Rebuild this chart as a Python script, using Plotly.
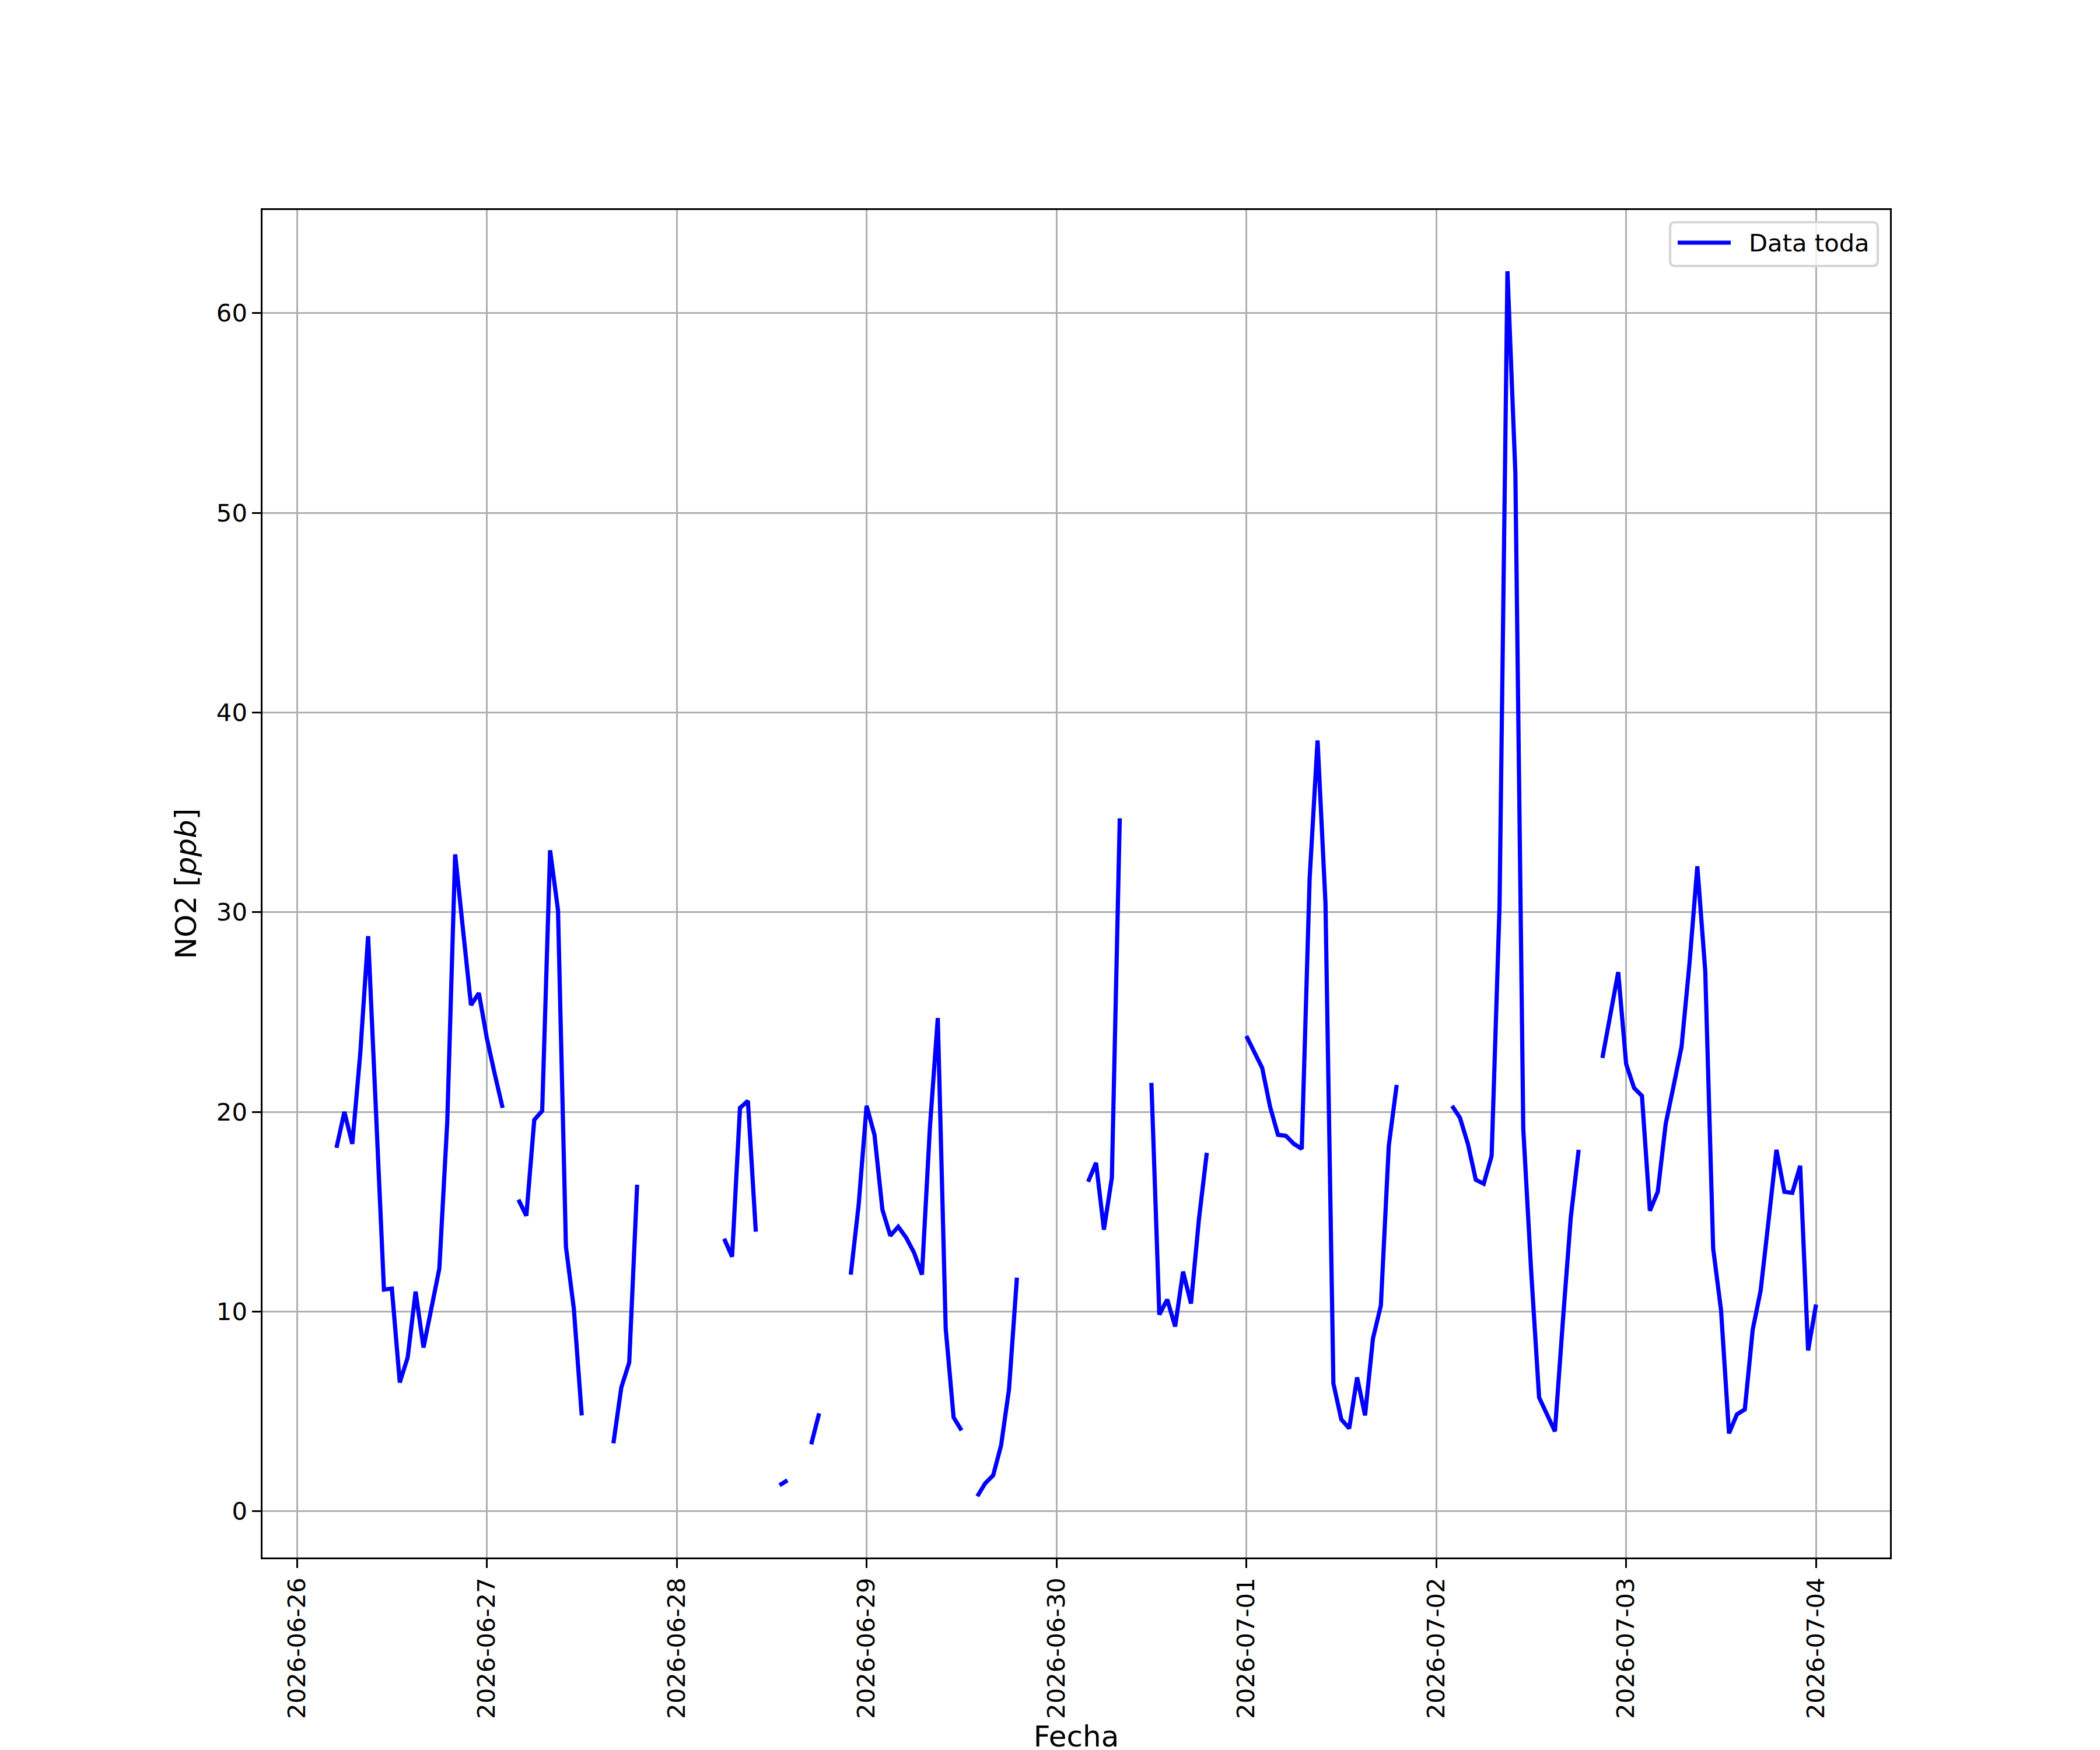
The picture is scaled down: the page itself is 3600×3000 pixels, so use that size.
import pandas as pd
import plotly.graph_objects as go

N = None
# Hourly NO2 readings (ppb), one list per day, hours 00..23 (None = missing)
day_0626 = [N, N, N, N, N, 18.2, 20.0, 18.4, 22.9, 28.8, 20.0, 11.1, 11.15, 6.45, 7.7, 11.0,
            8.2, 10.3, 12.15, 19.5, 32.9, 29.1, 25.35, 25.95]
day_0627 = [23.7, 21.9, 20.2, N, 15.6, 14.8, 19.6, 20.05, 33.1, 30.1, 13.25, 10.15, 4.8, N, N, N,
            3.4, 6.2, 7.45, 16.35, N, N, N, N]
day_0628 = [N, N, N, N, N, N, 13.65, 12.75, 20.2, 20.55, 14.0, N, N, 1.3, 1.55, N,
            N, 3.35, 4.9, N, N, N, 11.85, 15.35]
day_0629 = [20.3, 18.85, 15.1, 13.8, 14.25, 13.7, 12.95, 11.85, 19.2, 24.7, 9.15, 4.7, 4.05, N, 0.75, 1.4,
            1.8, 3.3, 6.1, 11.7, N, N, N, N]
day_0630 = [N, N, N, N, 16.5, 17.45, 14.1, 16.7, 34.7, N, N, N, 21.45, 9.85, 10.6, 9.25,
            12.0, 10.4, 14.6, 17.95, N, N, N, N]
day_0701 = [23.8, 23.05, 22.2, 20.25, 18.85, 18.8, 18.4, 18.15, 31.7, 38.6, 30.45, 6.4, 4.6, 4.15, 6.7, 4.8,
            8.65, 10.3, 18.3, 21.35, N, N, N, N]
day_0702 = [N, N, 20.3, 19.7, 18.4, 16.6, 16.4, 17.8, 30.3, 62.1, 52.0, 19.15, 12.0, 5.7, 4.85, 4.0,
            9.5, 14.7, 18.1, N, N, 22.7, 24.9, 27.0]
day_0703 = [22.4, 21.2, 20.8, 15.05, 16.0, 19.4, 21.3, 23.25, 27.4, 32.3, 27.05, 13.15, 10.05, 3.9, 4.85, 5.1,
            9.1, 11.05, 14.55, 18.1, 16.0, 15.95, 17.3, 8.05]
day_0704 = [10.35]

days = [day_0626, day_0627, day_0628, day_0629, day_0630, day_0701, day_0702, day_0703, day_0704]
values_all = [v for d in days for v in d]
times_all = pd.date_range("2026-06-26 00:00", periods=len(values_all), freq="h")

# drop leading missing hours (data starts 05:00)
first = next(i for i, v in enumerate(values_all) if v is not None)
times = list(times_all[first:])
values = values_all[first:]

x_tick_vals = pd.date_range("2026-06-26", "2026-07-04", freq="D")
x_tick_text = [d.strftime("%Y-%m-%d") for d in x_tick_vals]
y_tick_vals = [0, 10, 20, 30, 40, 50, 60]

# matplotlib-like 5% margins
t0, t1 = times[0], times[-1]
span = t1 - t0
x_range = [t0 - span * 0.05, t1 + span * 0.05]
vals = [v for v in values if v is not None]
vmin, vmax = min(vals), max(vals)
vpad = (vmax - vmin) * 0.05
y_range = [vmin - vpad, vmax + vpad]

# page has an 8px body margin: shift figure so the axes land at 450..3240 x 360..2670
OFF = 8
W, H = 3600, 3000
PW, PH = 2790, 2310
L, T = 450 - OFF, 360 - OFF
R, B = W - L - PW, H - T - PH
FONT = "DejaVu Sans"
GRID = "#b0b0b0"
LW = 7.2

fig = go.Figure()
fig.add_trace(go.Scatter(
    x=times, y=values, mode="lines", name="Data toda",
    line=dict(color="#0000ff", width=LW), connectgaps=False, showlegend=False,
))


# helpers: target-image pixel -> paper coordinates
def px(X):
    return (X - 450) / PW


def py(Y):
    return 1 - (Y - 360) / PH


# legend (matplotlib style, rounded frame)
lx0, lx1, ly0, ly1, rr = 2863, 3219, 381, 456, 9
path = (f"M{px(lx0+rr)},{py(ly0)} L{px(lx1-rr)},{py(ly0)} Q{px(lx1)},{py(ly0)} {px(lx1)},{py(ly0+rr)} "
        f"L{px(lx1)},{py(ly1-rr)} Q{px(lx1)},{py(ly1)} {px(lx1-rr)},{py(ly1)} "
        f"L{px(lx0+rr)},{py(ly1)} Q{px(lx0)},{py(ly1)} {px(lx0)},{py(ly1-rr)} "
        f"L{px(lx0)},{py(ly0+rr)} Q{px(lx0)},{py(ly0)} {px(lx0+rr)},{py(ly0)} Z")
shapes = [
    dict(type="path", xref="paper", yref="paper", path=path,
         fillcolor="rgba(255,255,255,0.8)", line=dict(color="#d6d6d6", width=4.2), layer="above"),
    dict(type="line", xref="paper", yref="paper", x0=px(2876), x1=px(2967), y0=py(416), y1=py(416),
         line=dict(color="#0000ff", width=LW), layer="above"),
]
annotations = [
    dict(xref="paper", yref="paper", x=px(2996), y=py(416), xanchor="left", yanchor="middle",
         text="Data toda", showarrow=False, font=dict(family=FONT, size=41.7, color="black")),
]

fig.update_layout(
    width=W, height=H,
    margin=dict(l=L, r=R, t=T, b=B, autoexpand=False),
    paper_bgcolor="white", plot_bgcolor="white",
    font=dict(family=FONT, size=41.7, color="black"),
    shapes=shapes, annotations=annotations,
    showlegend=False,
)
fig.update_xaxes(
    type="date", range=x_range,
    tickmode="array", tickvals=list(x_tick_vals), ticktext=x_tick_text, tickangle=-90,
    showgrid=True, gridcolor=GRID, gridwidth=3.3,
    showline=True, linecolor="black", linewidth=3.3, mirror=True,
    ticks="outside", ticklen=14.6, tickwidth=3.3, tickcolor="black",
    tickfont=dict(family=FONT, size=41.7, color="black"),
    title=dict(text="Fecha", font=dict(family=FONT, size=50, color="black"), standoff=14),
    zeroline=False, automargin=False,
)
fig.update_yaxes(
    range=y_range, tickmode="array", tickvals=y_tick_vals,
    showgrid=True, gridcolor=GRID, gridwidth=3.3,
    showline=True, linecolor="black", linewidth=3.3, mirror=True,
    ticks="outside", ticklen=14.6, tickwidth=3.3, tickcolor="black",
    tickfont=dict(family=FONT, size=41.7, color="black"),
    title=dict(text="NO2 [<i>ppb</i>]", font=dict(family=FONT, size=50, color="black"), standoff=19),
    zeroline=False, automargin=False,
)

fig.write_html("out.html")
